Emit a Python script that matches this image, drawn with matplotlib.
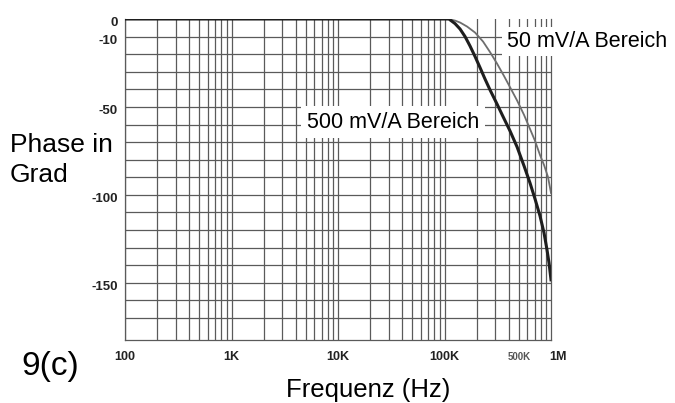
import matplotlib.pyplot as plt
from matplotlib.ticker import NullLocator

# phase readings (Hz, degrees) for the two ranges
freq_500 = [100, 1e3, 1e4, 1.1e5, 1.255e5, 1.4e5, 1.56e5, 1.735e5, 1.935e5, 2.155e5,
            2.4e5, 2.675e5, 3.11e5, 3.54e5, 4.12e5, 4.8e5, 5.58e5, 6.35e5, 7.08e5,
            7.88e5, 8.6e5, 9.17e5, 9.58e5, 1.0e6]
phase_500 = [0, 0, 0, 0, -2.6, -5.7, -10.0, -15.3, -21.3, -27.6,
             -34.1, -40.3, -48.3, -55.4, -63.6, -72.7, -83.5, -93.2, -102.3,
             -111.9, -121.6, -131.2, -138.6, -148.3]

freq_50 = [100, 1e3, 1e4, 1.08e5, 1.255e5, 1.4e5, 1.63e5, 1.935e5, 2.3e5, 2.675e5,
           3.11e5, 3.62e5, 4.21e5, 4.8e5, 5.58e5, 6.35e5, 7.08e5, 7.88e5, 8.6e5,
           9.37e5, 1.0e6]
phase_50 = [0, 0, 0, 0, -0.9, -2.0, -4.3, -7.7, -12.8, -18.8,
            -25.3, -32.4, -39.8, -46.3, -54.5, -62.5, -69.3, -77.3, -83.0,
            -89.8, -98.9]

xticks = [100, 1e3, 1e4, 1e5, 5e5, 1e6]
xticklabels = ["100", "1K", "10K", "100K", "500K", "1M"]
yticks = [0, -10, -50, -100, -150]

plt.rcParams['font.family'] = ['Liberation Sans', 'DejaVu Sans']

fig = plt.figure(figsize=(6.75, 4.03), dpi=100)
ax = fig.add_axes([125 / 675, 1 - 340 / 403, 426 / 675, 321 / 403])

ax.set_xscale("log")
ax.set_xlim(100, 1e6)
ax.set_ylim(-182.5, 0)

# grid: every 1..9 per decade, every 10 degrees
vgrid = [m * 10 ** e for e in range(2, 6) for m in range(1, 10)]
for v in vgrid:
    ax.axvline(v, color="#5a5a5a", lw=0.9, zorder=1)
for h in range(-170, 0, 10):
    ax.axhline(h, color="#5a5a5a", lw=0.9, zorder=1)

ax.plot(freq_50, phase_50, color="#6e6e6e", lw=1.3, zorder=3)
ax.plot(freq_500, phase_500, color="#1e1e1e", lw=2.2, zorder=4)

for name, s in ax.spines.items():
    s.set_visible(name != "top")
    s.set_color("#5a5a5a")
    s.set_linewidth(0.9)

ax.xaxis.set_major_locator(NullLocator())
ax.xaxis.set_minor_locator(NullLocator())
ax.yaxis.set_major_locator(NullLocator())

# tick labels sit a little below their grid lines in the original
for t in yticks:
    ax.annotate(str(t), xy=(0, t), xycoords=("axes fraction", "data"),
                xytext=(-5, -3), textcoords="offset points", ha="right", va="center",
                fontsize=9.5, fontweight="bold", color="#222222")
for f, lab in zip(xticks, xticklabels):
    small = lab == "500K"
    ax.annotate(lab, xy=(f, 0), xycoords=("data", "axes fraction"),
                xytext=(0 if f < 1e6 else 5, -12), textcoords="offset points",
                ha="center", va="center", fontsize=7 if small else 9,
                fontweight="bold", color="#555555" if small else "#222222")

ax.annotate("50 mV/A Bereich", xy=(1, 0), xycoords=("axes fraction", "data"),
            xytext=(-32, -20), textcoords="offset points", ha="left", va="baseline",
            fontsize=15.5, annotation_clip=False, zorder=5,
            bbox=dict(facecolor="white", edgecolor="none", pad=3))
ax.annotate("500 mV/A Bereich", xy=(0, -50), xycoords=("axes fraction", "data"),
            xytext=(131, -15), textcoords="offset points", ha="left", va="baseline",
            fontsize=15.5, zorder=5,
            bbox=dict(facecolor="white", edgecolor="none", pad=4))

fig.text(10 / 675, 1 - 152 / 403, "Phase in", fontsize=19, ha="left", va="baseline")
fig.text(10 / 675, 1 - 182 / 403, "Grad", fontsize=19, ha="left", va="baseline")
fig.text(21 / 675, 1 - 375 / 403, "9(c)", fontsize=24, ha="left", va="baseline")
fig.text(368 / 675, 1 - 397 / 403, "Frequenz (Hz)", fontsize=18.5, ha="center", va="baseline")

fig.savefig("out.png", dpi=100)
